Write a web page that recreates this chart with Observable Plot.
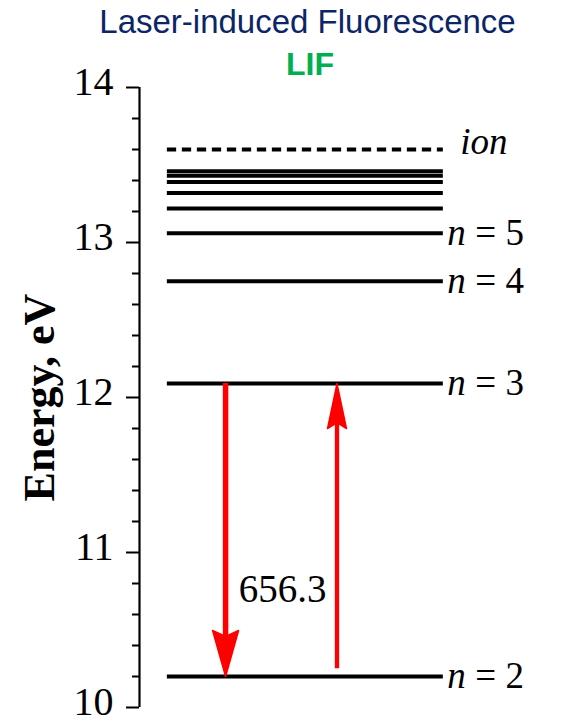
<!DOCTYPE html>
<html>
<head>
<meta charset="utf-8">
<script src="https://cdn.jsdelivr.net/npm/d3@7"></script>
<script src="https://cdn.jsdelivr.net/npm/@observablehq/plot@0.6"></script>
<style>
  body { margin: 0; background: #fff; }
  #wrap { position: relative; width: 561px; height: 721px; overflow: hidden; }
  #wrap svg { position: absolute; left: 0; top: 0; }
  .ttl { position: absolute; white-space: nowrap; transform: translateX(-50%); line-height: 1; font-family: "Liberation Sans", Arial, sans-serif; z-index: 2; }
  #t1 { left: 307.5px; top: 5px; font-size: 33px; color: #0b2566; }
  #t2 { left: 310px; top: 48px; font-size: 32px; font-weight: bold; color: #00b050; }
</style>
</head>
<body>
<div id="wrap">
  <div class="ttl" id="t1">Laser-induced Fluorescence</div>
  <div class="ttl" id="t2">LIF</div>
</div>
<script>
// ---- data ----
const levelN = [2, 3, 4, 5, 6, 7, 8, 9, 10];
const levelEnergy = [10.20, 12.09, 12.75, 13.06, 13.22, 13.32, 13.39, 13.43, 13.46];
const ionEnergy = [13.60];
const ionLabel = ["ion"];
const labeledN = [2, 3, 4, 5];
const labeledEnergy = [10.20, 12.09, 12.75, 13.06];
const yTicks = [10, 11, 12, 13, 14];
const yMinorTicks = [10.2, 10.4, 10.6, 10.8, 11.2, 11.4, 11.6, 11.8, 12.2, 12.4, 12.6, 12.8, 13.2, 13.4, 13.6, 13.8];
const downFrom = [12.09], downTo = [10.20];   // emission (fluorescence)
const upFrom = [10.25], upTo = [12.09];       // laser excitation
const wavelength = [656.3];
const yLabel = ["Energy, eV"];

// schematic horizontal placement (x domain 0..100)
const levelX1 = 6.6, levelX2 = 72.0;
const downX = 20.4, upX = 46.8, waveX = 33.9, waveY = 10.76;

const serif = "'Liberation Serif','Times New Roman',serif";
function headShape(hw, notch) {
  return {
    draw(context, l) {
      context.moveTo(0, -l);
      context.lineTo(hw, 0);
      context.lineTo(0, -notch);
      context.lineTo(-hw, 0);
      context.closePath();
    }
  };
}

const chart = Plot.plot({
  width: 561,
  height: 721,
  marginLeft: 139,
  marginRight: 0,
  marginTop: 87,
  marginBottom: 14,
  x: { domain: [0, 100], axis: null },
  y: { domain: [10, 14], axis: null },
  style: { fontFamily: serif, background: "transparent", overflow: "visible", color: "black" },
  marks: [
    Plot.axisY({ ticks: yMinorTicks, tickSize: 7, tickFormat: () => "", strokeWidth: 2, label: null }),
    Plot.axisY({ ticks: yTicks, tickSize: 13, tickFormat: () => "", strokeWidth: 2, label: null }),
    Plot.ruleX([0], { y1: 10, y2: 14, strokeWidth: 2.2 }),
    Plot.text(yTicks, { x: 0, y: d => d, text: d => String(d), textAnchor: "end", dx: -26, dy: -5, fontSize: 40, fill: "black" }),
    Plot.text(yLabel, { frameAnchor: "left", textAnchor: "middle", text: d => d, rotate: -90, dx: -100, fontSize: 44, fontWeight: "bold", fill: "black" }),
    // energy levels
    Plot.ruleY(levelEnergy, { y: d => d, x1: levelX1, x2: levelX2, strokeWidth: 4, stroke: "black" }),
    Plot.ruleY(ionEnergy, { y: d => d, x1: levelX1, x2: levelX2, strokeWidth: 4, stroke: "black", strokeDasharray: "9.3,5.7" }),
    // level labels
    Plot.text(labeledEnergy, { x: levelX2, y: d => d, text: () => "n", fontStyle: "italic", textAnchor: "start", dx: 4, fontSize: 37, fill: "black" }),
    Plot.text(labeledEnergy, { x: levelX2, y: d => d, text: (d, i) => "= " + labeledN[i], textAnchor: "start", dx: 32, fontSize: 37, fill: "black" }),
    Plot.text(ionEnergy, { x: levelX2, y: d => d, text: (d, i) => ionLabel[i], fontStyle: "italic", textAnchor: "start", dx: 17, dy: -7, fontSize: 37, fill: "black" }),
    // arrows
    Plot.ruleX(downFrom, { x: downX, y1: d => d, y2: (d, i) => downTo[i], stroke: "red", strokeWidth: 5.5, insetBottom: 38 }),
    Plot.vector(downTo, { x: downX, y: d => d, rotate: 180, length: 46, anchor: "end", shape: headShape(13, 6), fill: "red", stroke: "red", strokeWidth: 1.5 }),
    Plot.ruleX(upTo, { x: upX, y1: d => d, y2: (d, i) => upFrom[i], stroke: "red", strokeWidth: 4.3, insetTop: 38 }),
    Plot.vector(upTo, { x: upX, y: d => d, rotate: 0, length: 45, anchor: "end", shape: headShape(9.5, 6), fill: "red", stroke: "red", strokeWidth: 1.5 }),
    Plot.text(wavelength, { x: waveX, y: waveY, text: d => d.toFixed(1), fontSize: 39, fill: "black" })
  ]
});
document.getElementById("wrap").appendChild(chart);
</script>
</body>
</html>
